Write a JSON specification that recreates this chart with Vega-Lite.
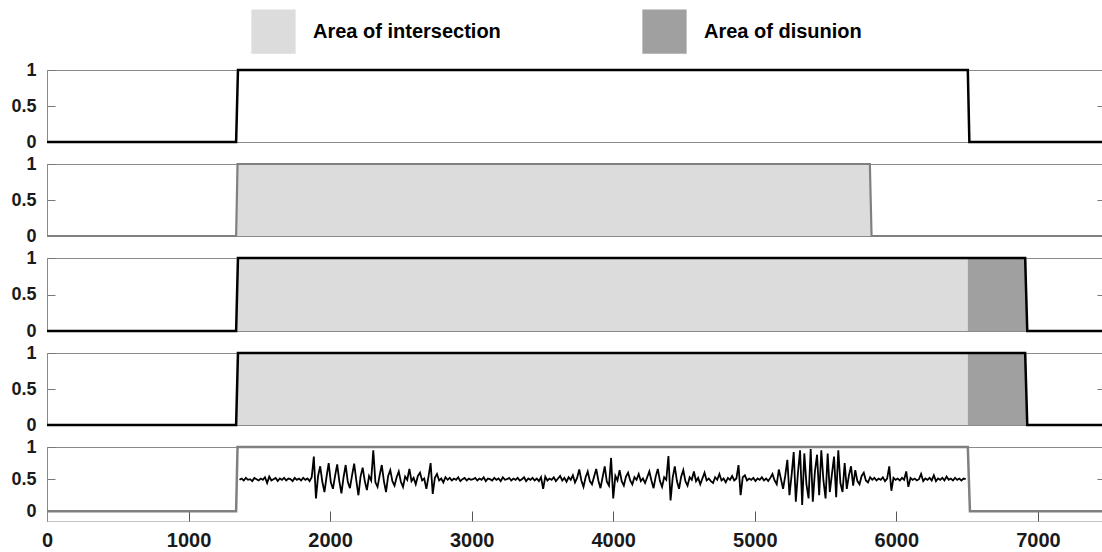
{
  "$schema": "https://vega.github.io/schema/vega-lite/v6.json",
  "padding": {"left": 10, "top": 9, "right": 0, "bottom": 0},
  "bounds": "flush",
  "spacing": 22,
  "config": {"font": "Liberation Sans", "view": {"stroke": null}},
  "datasets": {
    "steps": [
      {"panel": 1, "x": 0, "y": 0}, {"panel": 1, "x": 1336, "y": 0}, {"panel": 1, "x": 1349, "y": 1}, {"panel": 1, "x": 6505, "y": 1}, {"panel": 1, "x": 6516, "y": 0}, {"panel": 1, "x": 7460, "y": 0},
      {"panel": 2, "x": 0, "y": 0}, {"panel": 2, "x": 1336, "y": 0}, {"panel": 2, "x": 1346, "y": 1}, {"panel": 2, "x": 5813, "y": 1}, {"panel": 2, "x": 5825, "y": 0}, {"panel": 2, "x": 7460, "y": 0},
      {"panel": 3, "x": 0, "y": 0}, {"panel": 3, "x": 1336, "y": 0}, {"panel": 3, "x": 1349, "y": 1}, {"panel": 3, "x": 6910, "y": 1}, {"panel": 3, "x": 6925, "y": 0}, {"panel": 3, "x": 7460, "y": 0},
      {"panel": 4, "x": 0, "y": 0}, {"panel": 4, "x": 1336, "y": 0}, {"panel": 4, "x": 1349, "y": 1}, {"panel": 4, "x": 6910, "y": 1}, {"panel": 4, "x": 6925, "y": 0}, {"panel": 4, "x": 7460, "y": 0},
      {"panel": 5, "x": 0, "y": 0}, {"panel": 5, "x": 1336, "y": 0}, {"panel": 5, "x": 1346, "y": 1}, {"panel": 5, "x": 6505, "y": 1}, {"panel": 5, "x": 6520, "y": 0}, {"panel": 5, "x": 7460, "y": 0}
    ],
    "areas": [
      {"panel": 2, "kind": "Area of intersection", "x0": 1341, "x1": 5819},
      {"panel": 3, "kind": "Area of intersection", "x0": 1342, "x1": 6505},
      {"panel": 3, "kind": "Area of disunion", "x0": 6505, "x1": 6918},
      {"panel": 4, "kind": "Area of intersection", "x0": 1342, "x1": 6505},
      {"panel": 4, "kind": "Area of disunion", "x0": 6505, "x1": 6918}
    ],
    "noise": [
      {"x":1360,"y":0.49},{"x":1375,"y":0.51},{"x":1390,"y":0.48},{"x":1405,"y":0.52},{"x":1420,"y":0.49},{"x":1435,"y":0.50},{"x":1450,"y":0.47},{"x":1465,"y":0.52},{"x":1480,"y":0.50},{"x":1495,"y":0.48},
      {"x":1510,"y":0.51},{"x":1525,"y":0.49},{"x":1540,"y":0.53},{"x":1555,"y":0.44},{"x":1570,"y":0.54},{"x":1585,"y":0.48},{"x":1600,"y":0.50},{"x":1615,"y":0.52},{"x":1630,"y":0.47},{"x":1645,"y":0.51},
      {"x":1660,"y":0.49},{"x":1675,"y":0.52},{"x":1690,"y":0.48},{"x":1705,"y":0.51},{"x":1720,"y":0.50},{"x":1735,"y":0.47},{"x":1750,"y":0.52},{"x":1765,"y":0.49},{"x":1780,"y":0.51},{"x":1795,"y":0.48},
      {"x":1810,"y":0.52},{"x":1825,"y":0.49},{"x":1840,"y":0.51},{"x":1855,"y":0.47},{"x":1870,"y":0.53},{"x":1885,"y":0.85},{"x":1900,"y":0.20},{"x":1915,"y":0.55},{"x":1930,"y":0.70},{"x":1945,"y":0.46},
      {"x":1960,"y":0.30},{"x":1975,"y":0.54},{"x":1990,"y":0.75},{"x":2005,"y":0.45},{"x":2020,"y":0.35},{"x":2035,"y":0.55},{"x":2050,"y":0.73},{"x":2065,"y":0.47},{"x":2080,"y":0.28},{"x":2095,"y":0.53},
      {"x":2110,"y":0.72},{"x":2125,"y":0.46},{"x":2140,"y":0.36},{"x":2155,"y":0.56},{"x":2170,"y":0.74},{"x":2185,"y":0.48},{"x":2200,"y":0.25},{"x":2215,"y":0.54},{"x":2230,"y":0.68},{"x":2245,"y":0.47},
      {"x":2260,"y":0.33},{"x":2275,"y":0.55},{"x":2290,"y":0.48},{"x":2305,"y":0.95},{"x":2320,"y":0.45},{"x":2335,"y":0.38},{"x":2350,"y":0.56},{"x":2365,"y":0.72},{"x":2380,"y":0.47},{"x":2395,"y":0.30},
      {"x":2410,"y":0.55},{"x":2425,"y":0.64},{"x":2440,"y":0.47},{"x":2455,"y":0.40},{"x":2470,"y":0.53},{"x":2485,"y":0.62},{"x":2500,"y":0.46},{"x":2515,"y":0.38},{"x":2530,"y":0.54},{"x":2545,"y":0.49},
      {"x":2560,"y":0.66},{"x":2575,"y":0.47},{"x":2590,"y":0.52},{"x":2605,"y":0.42},{"x":2620,"y":0.55},{"x":2635,"y":0.60},{"x":2650,"y":0.48},{"x":2665,"y":0.51},{"x":2680,"y":0.35},{"x":2695,"y":0.54},
      {"x":2710,"y":0.75},{"x":2725,"y":0.27},{"x":2740,"y":0.52},{"x":2755,"y":0.58},{"x":2770,"y":0.48},{"x":2785,"y":0.51},{"x":2800,"y":0.45},{"x":2815,"y":0.53},{"x":2830,"y":0.49},{"x":2845,"y":0.52},
      {"x":2860,"y":0.48},{"x":2875,"y":0.51},{"x":2890,"y":0.49},{"x":2905,"y":0.53},{"x":2920,"y":0.47},{"x":2935,"y":0.50},{"x":2950,"y":0.52},{"x":2965,"y":0.48},{"x":2980,"y":0.51},{"x":2995,"y":0.49},
      {"x":3010,"y":0.50},{"x":3025,"y":0.52},{"x":3040,"y":0.48},{"x":3055,"y":0.51},{"x":3070,"y":0.49},{"x":3085,"y":0.53},{"x":3100,"y":0.47},{"x":3115,"y":0.51},{"x":3130,"y":0.50},{"x":3145,"y":0.48},
      {"x":3160,"y":0.52},{"x":3175,"y":0.49},{"x":3190,"y":0.51},{"x":3205,"y":0.47},{"x":3220,"y":0.53},{"x":3235,"y":0.49},{"x":3250,"y":0.50},{"x":3265,"y":0.52},{"x":3280,"y":0.48},{"x":3295,"y":0.51},
      {"x":3310,"y":0.49},{"x":3325,"y":0.52},{"x":3340,"y":0.48},{"x":3355,"y":0.50},{"x":3370,"y":0.53},{"x":3385,"y":0.47},{"x":3400,"y":0.51},{"x":3415,"y":0.49},{"x":3430,"y":0.52},{"x":3445,"y":0.48},
      {"x":3460,"y":0.51},{"x":3475,"y":0.47},{"x":3490,"y":0.53},{"x":3505,"y":0.35},{"x":3520,"y":0.54},{"x":3535,"y":0.48},{"x":3550,"y":0.51},{"x":3565,"y":0.49},{"x":3580,"y":0.53},{"x":3595,"y":0.47},
      {"x":3610,"y":0.51},{"x":3625,"y":0.55},{"x":3640,"y":0.48},{"x":3655,"y":0.52},{"x":3670,"y":0.46},{"x":3685,"y":0.53},{"x":3700,"y":0.49},{"x":3715,"y":0.56},{"x":3730,"y":0.45},{"x":3745,"y":0.52},
      {"x":3760,"y":0.65},{"x":3775,"y":0.48},{"x":3790,"y":0.38},{"x":3805,"y":0.53},{"x":3820,"y":0.62},{"x":3835,"y":0.47},{"x":3850,"y":0.42},{"x":3865,"y":0.54},{"x":3880,"y":0.66},{"x":3895,"y":0.48},
      {"x":3910,"y":0.36},{"x":3925,"y":0.53},{"x":3940,"y":0.70},{"x":3955,"y":0.46},{"x":3970,"y":0.40},{"x":3985,"y":0.83},{"x":4000,"y":0.20},{"x":4015,"y":0.55},{"x":4030,"y":0.48},{"x":4045,"y":0.64},
      {"x":4060,"y":0.47},{"x":4075,"y":0.40},{"x":4090,"y":0.54},{"x":4105,"y":0.60},{"x":4120,"y":0.48},{"x":4135,"y":0.42},{"x":4150,"y":0.53},{"x":4165,"y":0.49},{"x":4180,"y":0.58},{"x":4195,"y":0.47},
      {"x":4210,"y":0.51},{"x":4225,"y":0.44},{"x":4240,"y":0.53},{"x":4255,"y":0.62},{"x":4270,"y":0.48},{"x":4285,"y":0.36},{"x":4300,"y":0.54},{"x":4315,"y":0.66},{"x":4330,"y":0.47},{"x":4345,"y":0.38},
      {"x":4360,"y":0.53},{"x":4375,"y":0.49},{"x":4390,"y":0.86},{"x":4405,"y":0.17},{"x":4420,"y":0.52},{"x":4435,"y":0.70},{"x":4450,"y":0.47},{"x":4465,"y":0.35},{"x":4480,"y":0.54},{"x":4495,"y":0.64},
      {"x":4510,"y":0.47},{"x":4525,"y":0.40},{"x":4540,"y":0.53},{"x":4555,"y":0.49},{"x":4570,"y":0.62},{"x":4585,"y":0.47},{"x":4600,"y":0.52},{"x":4615,"y":0.42},{"x":4630,"y":0.51},{"x":4645,"y":0.60},
      {"x":4660,"y":0.48},{"x":4675,"y":0.51},{"x":4690,"y":0.47},{"x":4705,"y":0.44},{"x":4720,"y":0.53},{"x":4735,"y":0.49},{"x":4750,"y":0.58},{"x":4765,"y":0.48},{"x":4780,"y":0.51},{"x":4795,"y":0.45},
      {"x":4810,"y":0.52},{"x":4825,"y":0.49},{"x":4840,"y":0.55},{"x":4855,"y":0.48},{"x":4870,"y":0.51},{"x":4885,"y":0.72},{"x":4900,"y":0.25},{"x":4915,"y":0.53},{"x":4930,"y":0.56},{"x":4945,"y":0.48},
      {"x":4960,"y":0.51},{"x":4975,"y":0.49},{"x":4990,"y":0.52},{"x":5005,"y":0.47},{"x":5020,"y":0.51},{"x":5035,"y":0.49},{"x":5050,"y":0.53},{"x":5065,"y":0.48},{"x":5080,"y":0.51},{"x":5095,"y":0.47},
      {"x":5110,"y":0.52},{"x":5125,"y":0.58},{"x":5140,"y":0.48},{"x":5155,"y":0.42},{"x":5170,"y":0.65},{"x":5185,"y":0.50},{"x":5200,"y":0.35},{"x":5215,"y":0.55},{"x":5230,"y":0.80},{"x":5245,"y":0.25},
      {"x":5260,"y":0.56},{"x":5275,"y":0.92},{"x":5290,"y":0.15},{"x":5305,"y":0.60},{"x":5320,"y":0.95},{"x":5335,"y":0.10},{"x":5350,"y":0.90},{"x":5365,"y":0.42},{"x":5380,"y":0.20},{"x":5395,"y":0.97},
      {"x":5410,"y":0.15},{"x":5425,"y":0.62},{"x":5440,"y":0.88},{"x":5455,"y":0.25},{"x":5470,"y":0.95},{"x":5485,"y":0.48},{"x":5500,"y":0.20},{"x":5515,"y":0.90},{"x":5530,"y":0.30},{"x":5545,"y":0.58},
      {"x":5560,"y":0.85},{"x":5575,"y":0.22},{"x":5590,"y":0.95},{"x":5605,"y":0.44},{"x":5620,"y":0.30},{"x":5635,"y":0.75},{"x":5650,"y":0.35},{"x":5665,"y":0.56},{"x":5680,"y":0.70},{"x":5695,"y":0.40},
      {"x":5710,"y":0.64},{"x":5725,"y":0.47},{"x":5740,"y":0.42},{"x":5755,"y":0.55},{"x":5770,"y":0.60},{"x":5785,"y":0.48},{"x":5800,"y":0.45},{"x":5815,"y":0.53},{"x":5830,"y":0.49},{"x":5845,"y":0.52},
      {"x":5860,"y":0.48},{"x":5875,"y":0.51},{"x":5890,"y":0.49},{"x":5905,"y":0.53},{"x":5920,"y":0.47},{"x":5935,"y":0.51},{"x":5950,"y":0.70},{"x":5965,"y":0.32},{"x":5980,"y":0.52},{"x":5995,"y":0.49},
      {"x":6010,"y":0.51},{"x":6025,"y":0.48},{"x":6040,"y":0.52},{"x":6055,"y":0.49},{"x":6070,"y":0.62},{"x":6085,"y":0.38},{"x":6100,"y":0.52},{"x":6115,"y":0.49},{"x":6130,"y":0.51},{"x":6145,"y":0.48},
      {"x":6160,"y":0.50},{"x":6175,"y":0.58},{"x":6190,"y":0.47},{"x":6205,"y":0.51},{"x":6220,"y":0.49},{"x":6235,"y":0.52},{"x":6250,"y":0.48},{"x":6265,"y":0.56},{"x":6280,"y":0.47},{"x":6295,"y":0.51},
      {"x":6310,"y":0.49},{"x":6325,"y":0.52},{"x":6340,"y":0.48},{"x":6355,"y":0.54},{"x":6370,"y":0.49},{"x":6385,"y":0.51},{"x":6400,"y":0.48},{"x":6415,"y":0.52},{"x":6430,"y":0.49},{"x":6445,"y":0.51},
      {"x":6460,"y":0.48},{"x":6475,"y":0.51},{"x":6490,"y":0.50}
    ]
  },
  "vconcat": [
    {
      "width": 1056, "height": 72,
      "layer": [
        {
          "data": {"name": "steps"}, "transform": [{"filter": "datum.panel == 1"}],
          "mark": {"type": "line", "strokeOpacity": 0},
          "encoding": {
            "x": {"field": "x", "type": "quantitative", "scale": {"domain": [0, 7460], "nice": false, "zero": false},
                  "axis": {"orient": "bottom", "labels": false, "ticks": false, "domain": true, "domainColor": "#8a8a8a", "grid": false, "title": null}},
            "y": {"field": "y", "type": "quantitative", "scale": {"domain": [0, 1], "nice": false},
                  "axis": {"orient": "left", "labels": false, "ticks": false, "domain": true, "domainColor": "#8a8a8a", "grid": false, "title": null}}
          }
        },
        {
          "data": {"name": "steps"}, "transform": [{"filter": "datum.panel == 1"}],
          "mark": {"type": "line", "color": "#000000", "strokeWidth": 2.5},
          "encoding": {
            "x": {"field": "x", "type": "quantitative", "axis": {"orient": "top", "labels": false, "ticks": false, "domain": true, "domainColor": "#8a8a8a", "grid": false, "title": null}},
            "y": {"field": "y", "type": "quantitative", "axis": {"orient": "right", "values": [0.5], "labels": false, "tickSize": 6, "offset": -6, "tickColor": "#777777", "domain": false, "grid": false, "title": null}}
          }
        },
        {
          "data": {"name": "steps"}, "transform": [{"filter": "datum.panel == 1"}],
          "mark": {"type": "line", "strokeOpacity": 0},
          "encoding": {
            "x": {"field": "x", "type": "quantitative", "axis": null},
            "y": {"field": "y", "type": "quantitative", "axis": {"orient": "left", "values": [0, 0.5, 1], "format": "~g", "labelFont": "Liberation Sans", "labelFontWeight": "bold", "labelFontSize": 18, "labelColor": "#1a1a1a", "tickSize": 8, "offset": -8, "tickColor": "#777777", "labelPadding": 11, "domain": false, "grid": false, "title": null}}
          }
        }
      ],
      "resolve": {"axis": {"x": "independent", "y": "independent"}}
    },
    {
      "width": 1056, "height": 72,
      "layer": [
        {
          "data": {"name": "areas"}, "transform": [{"filter": "datum.panel == 2"}],
          "mark": {"type": "rect", "opacity": 1},
          "encoding": {
            "x": {"field": "x0", "type": "quantitative", "scale": {"domain": [0, 7460], "nice": false, "zero": false},
                  "axis": {"orient": "bottom", "labels": false, "ticks": false, "domain": true, "domainColor": "#8a8a8a", "grid": false, "title": null}},
            "x2": {"field": "x1"},
            "y": {"datum": 0, "type": "quantitative", "scale": {"domain": [0, 1], "nice": false},
                  "axis": {"orient": "left", "labels": false, "ticks": false, "domain": true, "domainColor": "#8a8a8a", "grid": false, "title": null}},
            "y2": {"datum": 1},
            "color": {"field": "kind", "type": "nominal",
                      "scale": {"domain": ["Area of intersection", "Area of disunion"], "range": ["#dcdcdc", "#a0a0a0"]},
                      "legend": {"orient": "none", "legendX": 204, "legendY": -61, "direction": "horizontal", "title": null, "symbolType": "square", "symbolSize": 1960, "symbolStrokeWidth": 0, "symbolOpacity": 1, "labelFont": "Liberation Sans", "labelFontWeight": "bold", "labelFontSize": 20, "labelColor": "#000000", "labelLimit": 400, "labelOffset": 17, "columnPadding": 141}}
          }
        },
        {
          "data": {"name": "steps"}, "transform": [{"filter": "datum.panel == 2"}],
          "mark": {"type": "line", "color": "#808080", "strokeWidth": 2.2},
          "encoding": {
            "x": {"field": "x", "type": "quantitative", "axis": {"orient": "top", "labels": false, "ticks": false, "domain": true, "domainColor": "#8a8a8a", "grid": false, "title": null}},
            "y": {"field": "y", "type": "quantitative", "axis": {"orient": "right", "values": [0.5], "labels": false, "tickSize": 6, "offset": -6, "tickColor": "#777777", "domain": false, "grid": false, "title": null}}
          }
        },
        {
          "data": {"name": "steps"}, "transform": [{"filter": "datum.panel == 2"}],
          "mark": {"type": "line", "strokeOpacity": 0},
          "encoding": {
            "x": {"field": "x", "type": "quantitative", "axis": null},
            "y": {"field": "y", "type": "quantitative", "axis": {"orient": "left", "values": [0, 0.5, 1], "format": "~g", "labelFont": "Liberation Sans", "labelFontWeight": "bold", "labelFontSize": 18, "labelColor": "#1a1a1a", "tickSize": 8, "offset": -8, "tickColor": "#777777", "labelPadding": 11, "domain": false, "grid": false, "title": null}}
          }
        }
      ],
      "resolve": {"axis": {"x": "independent", "y": "independent"}}
    },
    {
      "width": 1056, "height": 73,
      "layer": [
        {
          "data": {"name": "areas"}, "transform": [{"filter": "datum.panel == 3"}],
          "mark": {"type": "rect", "opacity": 1},
          "encoding": {
            "x": {"field": "x0", "type": "quantitative", "scale": {"domain": [0, 7460], "nice": false, "zero": false},
                  "axis": {"orient": "bottom", "labels": false, "ticks": false, "domain": true, "domainColor": "#8a8a8a", "grid": false, "title": null}},
            "x2": {"field": "x1"},
            "y": {"datum": 0, "type": "quantitative", "scale": {"domain": [0, 1], "nice": false},
                  "axis": {"orient": "left", "labels": false, "ticks": false, "domain": true, "domainColor": "#8a8a8a", "grid": false, "title": null}},
            "y2": {"datum": 1},
            "color": {"field": "kind", "type": "nominal"}
          }
        },
        {
          "data": {"name": "steps"}, "transform": [{"filter": "datum.panel == 3"}],
          "mark": {"type": "line", "color": "#000000", "strokeWidth": 2.5},
          "encoding": {
            "x": {"field": "x", "type": "quantitative", "axis": {"orient": "top", "labels": false, "ticks": false, "domain": true, "domainColor": "#8a8a8a", "grid": false, "title": null}},
            "y": {"field": "y", "type": "quantitative", "axis": {"orient": "right", "values": [0.5], "labels": false, "tickSize": 6, "offset": -6, "tickColor": "#777777", "domain": false, "grid": false, "title": null}}
          }
        },
        {
          "data": {"name": "steps"}, "transform": [{"filter": "datum.panel == 3"}],
          "mark": {"type": "line", "strokeOpacity": 0},
          "encoding": {
            "x": {"field": "x", "type": "quantitative", "axis": null},
            "y": {"field": "y", "type": "quantitative", "axis": {"orient": "left", "values": [0, 0.5, 1], "format": "~g", "labelFont": "Liberation Sans", "labelFontWeight": "bold", "labelFontSize": 18, "labelColor": "#1a1a1a", "tickSize": 8, "offset": -8, "tickColor": "#777777", "labelPadding": 11, "domain": false, "grid": false, "title": null}}
          }
        }
      ],
      "resolve": {"axis": {"x": "independent", "y": "independent"}}
    },
    {
      "width": 1056, "height": 72,
      "layer": [
        {
          "data": {"name": "areas"}, "transform": [{"filter": "datum.panel == 4"}],
          "mark": {"type": "rect", "opacity": 1},
          "encoding": {
            "x": {"field": "x0", "type": "quantitative", "scale": {"domain": [0, 7460], "nice": false, "zero": false},
                  "axis": {"orient": "bottom", "labels": false, "ticks": false, "domain": true, "domainColor": "#8a8a8a", "grid": false, "title": null}},
            "x2": {"field": "x1"},
            "y": {"datum": 0, "type": "quantitative", "scale": {"domain": [0, 1], "nice": false},
                  "axis": {"orient": "left", "labels": false, "ticks": false, "domain": true, "domainColor": "#8a8a8a", "grid": false, "title": null}},
            "y2": {"datum": 1},
            "color": {"field": "kind", "type": "nominal"}
          }
        },
        {
          "data": {"name": "steps"}, "transform": [{"filter": "datum.panel == 4"}],
          "mark": {"type": "line", "color": "#000000", "strokeWidth": 2.5},
          "encoding": {
            "x": {"field": "x", "type": "quantitative", "axis": {"orient": "top", "labels": false, "ticks": false, "domain": true, "domainColor": "#8a8a8a", "grid": false, "title": null}},
            "y": {"field": "y", "type": "quantitative", "axis": {"orient": "right", "values": [0.5], "labels": false, "tickSize": 6, "offset": -6, "tickColor": "#777777", "domain": false, "grid": false, "title": null}}
          }
        },
        {
          "data": {"name": "steps"}, "transform": [{"filter": "datum.panel == 4"}],
          "mark": {"type": "line", "strokeOpacity": 0},
          "encoding": {
            "x": {"field": "x", "type": "quantitative", "axis": null},
            "y": {"field": "y", "type": "quantitative", "axis": {"orient": "left", "values": [0, 0.5, 1], "format": "~g", "labelFont": "Liberation Sans", "labelFontWeight": "bold", "labelFontSize": 18, "labelColor": "#1a1a1a", "tickSize": 8, "offset": -8, "tickColor": "#777777", "labelPadding": 11, "domain": false, "grid": false, "title": null}}
          }
        }
      ],
      "resolve": {"axis": {"x": "independent", "y": "independent"}}
    },
    {
      "width": 1056, "height": 74,
      "layer": [
        {
          "data": {"name": "steps"}, "transform": [{"filter": "datum.panel == 5"}],
          "mark": {"type": "line", "color": "#808080", "strokeWidth": 2.5},
          "encoding": {
            "x": {"field": "x", "type": "quantitative", "scale": {"domain": [0, 7460], "nice": false, "zero": false},
                  "axis": {"orient": "top", "labels": false, "ticks": false, "domain": true, "domainColor": "#8a8a8a", "grid": false, "title": null}},
            "y": {"field": "y", "type": "quantitative", "scale": {"domain": [-0.15, 1], "nice": false, "zero": false},
                  "axis": {"orient": "right", "values": [0.5], "labels": false, "tickSize": 6, "offset": -6, "tickColor": "#777777", "domain": false, "grid": false, "title": null}}
          }
        },
        {
          "data": {"name": "noise"},
          "mark": {"type": "line", "color": "#000000", "strokeWidth": 1.8},
          "encoding": {
            "x": {"field": "x", "type": "quantitative",
                  "axis": {"orient": "bottom", "labels": false, "ticks": false, "domain": true, "domainColor": "#c4c4c4", "grid": false, "title": null}},
            "y": {"field": "y", "type": "quantitative",
                  "axis": {"orient": "left", "labels": false, "ticks": false, "domain": true, "domainColor": "#8a8a8a", "grid": false, "title": null}}
          }
        },
        {
          "data": {"name": "steps"}, "transform": [{"filter": "datum.panel == 5"}],
          "mark": {"type": "line", "strokeOpacity": 0},
          "encoding": {
            "x": {"field": "x", "type": "quantitative",
                  "axis": {"orient": "bottom", "values": [0, 1000, 2000, 3000, 4000, 5000, 6000, 7000], "format": "d", "labelFont": "Liberation Sans", "labelFontWeight": "bold", "labelFontSize": 20, "labelColor": "#1a1a1a", "labelFlush": false, "tickSize": 10, "offset": -10, "tickColor": "#555555", "labelPadding": 9, "domain": false, "grid": false, "title": null}},
            "y": {"field": "y", "type": "quantitative", "axis": {"orient": "left", "values": [0, 0.5, 1], "format": "~g", "labelFont": "Liberation Sans", "labelFontWeight": "bold", "labelFontSize": 18, "labelColor": "#1a1a1a", "tickSize": 8, "offset": -8, "tickColor": "#777777", "labelPadding": 11, "domain": false, "grid": false, "title": null}}
          }
        }
      ],
      "resolve": {"axis": {"x": "independent", "y": "independent"}}
    }
  ]
}
